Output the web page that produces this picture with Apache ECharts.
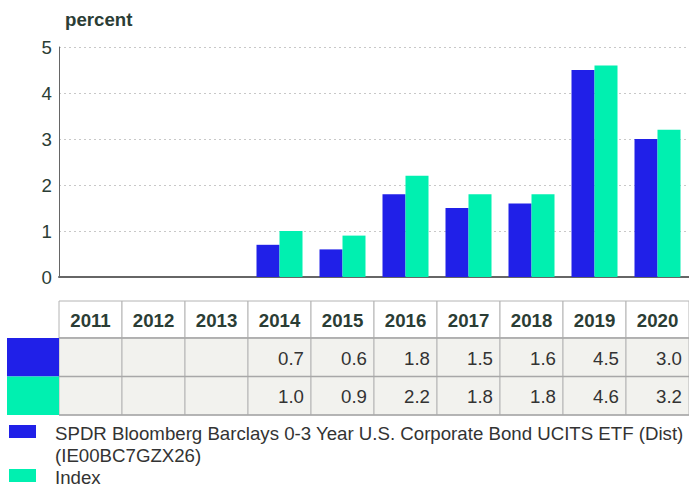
<!DOCTYPE html>
<html>
<head>
<meta charset="utf-8">
<script src="https://cdn.jsdelivr.net/npm/echarts@6/dist/echarts.min.js"></script>
<style>
html,body{margin:0;padding:0;background:#fff;overflow:hidden;}
#chart{width:689px;height:486px;}
</style>
</head>
<body>
<div id="chart"></div>
<script>
const categories = ['2011','2012','2013','2014','2015','2016','2017','2018','2019','2020'];
const etfValues = [null,null,null,0.7,0.6,1.8,1.5,1.6,4.5,3.0];
const indexValues = [null,null,null,1.0,0.9,2.2,1.8,1.8,4.6,3.2];
const seriesNames = ['SPDR Bloomberg Barclays 0-3 Year U.S. Corporate Bond UCITS ETF (Dist) (IE00BC7GZX26)', 'Index'];
const legendLines = [['SPDR Bloomberg Barclays 0-3 Year U.S. Corporate Bond UCITS ETF (Dist)', '(IE00BC7GZX26)'], ['Index']];
const yTicks = [0,1,2,3,4,5];
const unitLabel = 'percent';

const colors = ['#2020e8', '#00f0b0'];
const FONT = '"Liberation Sans", Arial, sans-serif';
const FS = 18.67;
const DARK = '#2b3d35';

const chart = echarts.init(document.getElementById('chart'), null, {renderer: 'svg'});
chart.setOption({
  animation: false,
  title: {
    text: unitLabel, left: 60, top: 5,
    textStyle: {fontFamily: FONT, fontSize: FS, fontWeight: 'bold', color: DARK}
  },
  grid: {left: 59, right: -4, top: 47, bottom: 209, containLabel: false},
  xAxis: {
    type: 'category', data: categories,
    axisLine: {show: true, lineStyle: {color: '#666', width: 2}},
    axisTick: {show: false}, axisLabel: {show: false}
  },
  yAxis: {
    type: 'value', min: yTicks[0], max: yTicks[yTicks.length - 1], interval: 1,
    axisLine: {show: true, lineStyle: {color: '#666', width: 1}},
    axisTick: {show: false},
    axisLabel: {fontFamily: FONT, fontSize: FS, color: DARK, margin: 7},
    splitLine: {show: true, lineStyle: {color: '#c8c8c8', type: [2, 3], width: 1}}
  },
  series: [
    {name: seriesNames[0], type: 'bar', data: etfValues, barWidth: 23, barGap: '0%', itemStyle: {color: colors[0]}},
    {name: seriesNames[1], type: 'bar', data: indexValues, barWidth: 23, itemStyle: {color: colors[1]}}
  ]
});

// Build the data table & legend from the chart's own category scale
const centers = categories.map((c) => chart.convertToPixel({xAxisIndex: 0}, c));
const band = centers.length > 1 ? centers[1] - centers[0] : 60;
const rows = [etfValues, indexValues];
const headerTop = 301, headerH = 37, rowH = 38.5;
const g = [];
categories.forEach((c, i) => {
  const x0 = centers[i] - band / 2;
  g.push({type: 'rect', shape: {x: x0, y: headerTop, width: band, height: headerH}, style: {fill: '#fff', stroke: '#b4b4b4', lineWidth: 1}, silent: true});
  g.push({type: 'text', x: centers[i], y: headerTop + headerH / 2 + 1, style: {text: c, fontFamily: FONT, fontSize: FS, fontWeight: 'bold', fill: DARK, align: 'center', verticalAlign: 'middle'}, silent: true});
  rows.forEach((vals, r) => {
    const y0 = headerTop + headerH + r * rowH;
    g.push({type: 'rect', shape: {x: x0, y: y0, width: band, height: rowH}, style: {fill: '#f2f2ee', stroke: '#b4b4b4', lineWidth: 1}, silent: true});
    if (vals[i] != null) {
      g.push({type: 'text', x: x0 + band - 7, y: y0 + rowH / 2 + 1, style: {text: vals[i].toFixed(1), fontFamily: FONT, fontSize: FS, fill: '#333', align: 'right', verticalAlign: 'middle'}, silent: true});
    }
  });
});
// horizontal separators slightly stronger
[headerTop + headerH, headerTop + headerH + rowH, headerTop + headerH + 2 * rowH].forEach((y) => {
  g.push({type: 'line', shape: {x1: centers[0] - band / 2, y1: y, x2: centers[centers.length - 1] + band / 2, y2: y}, style: {stroke: '#a8a8a8', lineWidth: 1.5}, silent: true});
});
// color swatches in table
rows.forEach((vals, r) => {
  const y0 = headerTop + headerH + r * rowH;
  g.push({type: 'rect', shape: {x: 7, y: y0, width: centers[0] - band / 2 - 7, height: rowH}, style: {fill: colors[r]}, silent: true});
});
// legend
let ly = 433;
legendLines.forEach((lines, r) => {
  g.push({type: 'rect', shape: {x: 9, y: ly - 8, width: 27, height: 13}, style: {fill: colors[r]}, silent: true});
  lines.forEach((t) => {
    g.push({type: 'text', x: 55, y: ly, style: {text: t, fontFamily: FONT, fontSize: FS, fill: '#333', align: 'left', verticalAlign: 'middle'}, silent: true});
    ly += 22;
  });
});
chart.setOption({graphic: g});
</script>
</body>
</html>
